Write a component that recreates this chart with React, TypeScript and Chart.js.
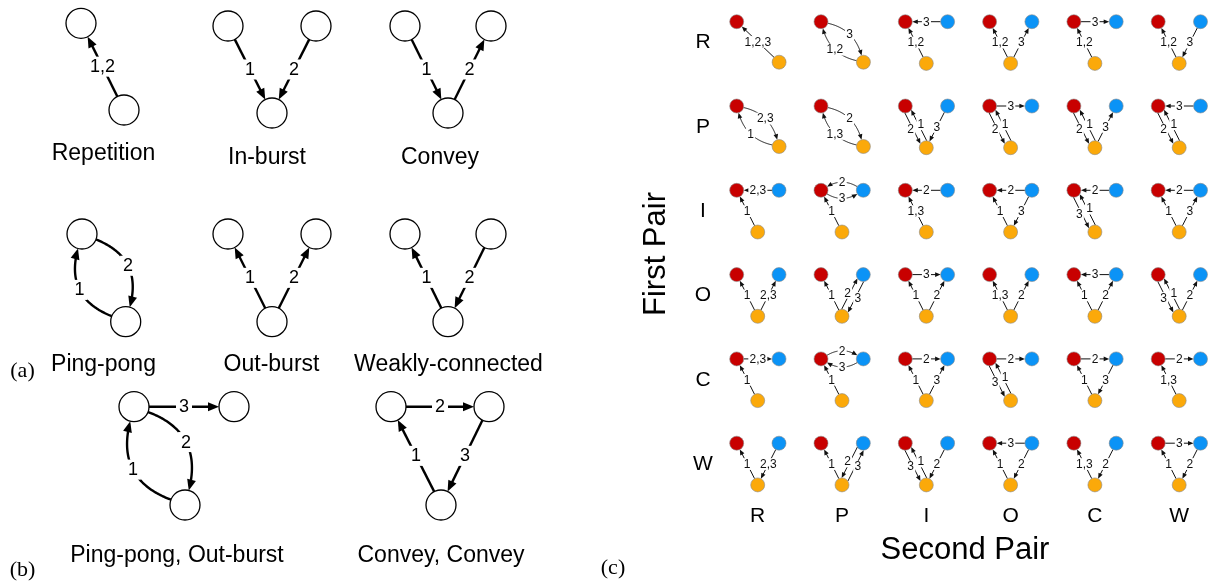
import { useEffect, useRef } from "react";
import { Chart, registerables } from "chart.js";

Chart.register(...registerables);

type Edge = [number, number, string, string?];
type Pt = { x: number; y: number };

// ---------- Panels (a) and (b): named motifs ----------
const motifCaptions = [
  "Repetition",
  "In-burst",
  "Convey",
  "Ping-pong",
  "Out-burst",
  "Weakly-connected",
  "Ping-pong, Out-burst",
  "Convey, Convey",
];
const captionX = [103.5, 267, 440, 103.5, 271.5, 448.5, 177, 441];
const captionY = [160, 164.3, 164.3, 371, 371, 371, 561.7, 561.7];

// node centres of each motif (index 0 = left / top, 1 = right, 2 = bottom)
const motifNodeX = [
  [81, 124],
  [228, 316, 272],
  [405, 491, 448],
  [82, 125.7],
  [228, 316, 272],
  [405, 491, 448],
  [134, 234, 185],
  [391, 489, 441],
];
const motifNodeY = [
  [23.3, 110],
  [26, 26, 113],
  [26, 26, 113],
  [234, 321.7],
  [234, 234, 321.7],
  [234, 234, 321.7],
  [406.7, 406.7, 505],
  [406.7, 406.7, 505],
];
// edges: [from, to, order label, shape] shape: "" straight, aL/aR arc side
const motifEdges: Edge[][] = [
  [[1, 0, "1,2"]],
  [[0, 2, "1"], [1, 2, "2"]],
  [[0, 2, "1"], [2, 1, "2"]],
  [[1, 0, "1", "aL"], [0, 1, "2", "aR"]],
  [[2, 0, "1"], [2, 1, "2"]],
  [[2, 0, "1"], [1, 2, "2"]],
  [[2, 0, "1", "aL"], [0, 2, "2", "aR"], [0, 1, "3"]],
  [[2, 0, "1"], [0, 1, "2"], [1, 2, "3"]],
];
const panelTags = ["(a)", "(b)", "(c)"];

// ---------- Panel (c): first pair x second pair ----------
// nodes: 0 = red, 1 = blue, 2 = orange
const pairCodes = ["R", "P", "I", "O", "C", "W"];
const rowR: Edge[][] = [
  [[2, 0, "1,2,3"]],
  [[2, 0, "1,2", "aL"], [0, 2, "3", "aR"]],
  [[2, 0, "1,2"], [1, 0, "3"]],
  [[2, 0, "1,2"], [2, 1, "3"]],
  [[2, 0, "1,2"], [0, 1, "3"]],
  [[2, 0, "1,2"], [1, 2, "3"]],
];
const rowP: Edge[][] = [
  [[2, 0, "1", "aL"], [0, 2, "2,3", "aR"]],
  [[2, 0, "1,3", "aL"], [0, 2, "2", "aR"]],
  [[0, 2, "2", "pL"], [2, 0, "1", "pR"], [1, 2, "3"]],
  [[0, 2, "2", "pL"], [2, 0, "1", "pR"], [0, 1, "3"]],
  [[0, 2, "2", "pL"], [2, 0, "1", "pR"], [2, 1, "3"]],
  [[0, 2, "2", "pL"], [2, 0, "1", "pR"], [1, 0, "3"]],
];
const rowI: Edge[][] = [
  [[2, 0, "1"], [1, 0, "2,3"]],
  [[2, 0, "1"], [1, 0, "2", "aU"], [0, 1, "3", "aD"]],
  [[2, 0, "1,3"], [1, 0, "2"]],
  [[2, 0, "1"], [1, 0, "2"], [1, 2, "3"]],
  [[1, 0, "2"], [0, 2, "3", "pL"], [2, 0, "1", "pR"]],
  [[2, 0, "1"], [1, 0, "2"], [2, 1, "3"]],
];
const rowO: Edge[][] = [
  [[2, 0, "1"], [2, 1, "2,3"]],
  [[2, 0, "1"], [2, 1, "2", "pL"], [1, 2, "3", "pR"]],
  [[2, 0, "1"], [2, 1, "2"], [0, 1, "3"]],
  [[2, 0, "1,3"], [2, 1, "2"]],
  [[2, 0, "1"], [2, 1, "2"], [1, 0, "3"]],
  [[0, 2, "3", "pL"], [2, 0, "1", "pR"], [2, 1, "2"]],
];
const rowC: Edge[][] = [
  [[2, 0, "1"], [0, 1, "2,3"]],
  [[2, 0, "1"], [0, 1, "2", "aU"], [1, 0, "3", "aD"]],
  [[2, 0, "1"], [0, 1, "2"], [2, 1, "3"]],
  [[0, 1, "2"], [0, 2, "3", "pL"], [2, 0, "1", "pR"]],
  [[2, 0, "1"], [0, 1, "2"], [1, 2, "3"]],
  [[2, 0, "1,3"], [0, 1, "2"]],
];
const rowW: Edge[][] = [
  [[2, 0, "1"], [1, 2, "2,3"]],
  [[2, 0, "1"], [1, 2, "2", "pL"], [2, 1, "3", "pR"]],
  [[0, 2, "3", "pL"], [2, 0, "1", "pR"], [1, 2, "2"]],
  [[2, 0, "1"], [1, 2, "2"], [1, 0, "3"]],
  [[2, 0, "1,3"], [1, 2, "2"]],
  [[2, 0, "1"], [1, 2, "2"], [0, 1, "3"]],
];
const gridRows = [rowR, rowP, rowI, rowO, rowC, rowW];

// ---------- layout / style ----------
const GRID_X0 = 736.7;
const GRID_Y0 = 21.7;
const GRID_SX = 84.3;
const GRID_SY = 84.3;
const BLUE_DX = 42.3;
const ORANGE_DX = 21;
const ORANGE_DY = 41.7;
const PAIR_DX = 42.4;
const PAIR_DY = 40.5;

const SANS = '"Liberation Sans", Arial, Helvetica, sans-serif';
const SERIF = '"Liberation Serif", "Times New Roman", serif';

const BIG = { r: 15, lw: 2.4, al: 11, aw: 9, fontSize: 18, arcRatio: 0.45, par: 0, lshift: 0, pad: 3, color: "#000" };
const SMALL = { r: 7, lw: 1, al: 5.5, aw: 4.6, fontSize: 12, arcRatio: 0.3, par: 3.5, lshift: 2.2, pad: 1.2, color: "#111" };

function cellNodes(i: number, j: number, cell: Edge[]): (Pt | null)[] {
  const rx = GRID_X0 + j * GRID_SX;
  const ry = GRID_Y0 + i * GRID_SY;
  const usesBlue = cell.some((e) => e[0] === 1 || e[1] === 1);
  if (!usesBlue) return [{ x: rx, y: ry }, null, { x: rx + PAIR_DX, y: ry + PAIR_DY }];
  return [{ x: rx, y: ry }, { x: rx + BLUE_DX, y: ry }, { x: rx + ORANGE_DX, y: ry + ORANGE_DY }];
}

function unit(x: number, y: number): Pt {
  const l = Math.hypot(x, y) || 1;
  return { x: x / l, y: y / l };
}

function quad(p0: Pt, c: Pt, p2: Pt, t: number): Pt {
  const a = (1 - t) * (1 - t), b = 2 * (1 - t) * t, d = t * t;
  return { x: a * p0.x + b * c.x + d * p2.x, y: a * p0.y + b * c.y + d * p2.y };
}

function drawEdge(ctx: CanvasRenderingContext2D, s: Pt, t: Pt, label: string, mode: string, st: typeof BIG) {
  const dx = t.x - s.x, dy = t.y - s.y;
  const L = Math.hypot(dx, dy);
  const ux = dx / L, uy = dy / L;
  let nx = -uy, ny = ux;
  const side = mode.charAt(1);
  if ((side === "L" && nx > 0) || (side === "R" && nx < 0) || (side === "U" && ny > 0) || (side === "D" && ny < 0)) {
    nx = -nx;
    ny = -ny;
  }
  ctx.strokeStyle = st.color;
  ctx.fillStyle = st.color;
  ctx.lineWidth = st.lw;
  ctx.lineCap = "butt";
  let tip: Pt, dir: Pt, lab: Pt;
  if (mode.charAt(0) === "a") {
    const off = L * st.arcRatio;
    const c = { x: (s.x + t.x) / 2 + nx * off, y: (s.y + t.y) / 2 + ny * off };
    const a0 = unit(c.x - s.x, c.y - s.y);
    const a1 = unit(c.x - t.x, c.y - t.y);
    const p0 = { x: s.x + a0.x * st.r, y: s.y + a0.y * st.r };
    const p2 = { x: t.x + a1.x * st.r, y: t.y + a1.y * st.r };
    ctx.beginPath();
    ctx.moveTo(p0.x, p0.y);
    for (let k = 1; k <= 80; k++) {
      const q = quad(p0, c, p2, k / 80);
      if (Math.hypot(q.x - p2.x, q.y - p2.y) < st.al * 0.85) break;
      ctx.lineTo(q.x, q.y);
    }
    ctx.stroke();
    tip = p2;
    dir = unit(p2.x - c.x, p2.y - c.y);
    lab = quad(p0, c, p2, 0.5);
  } else {
    const off = mode.charAt(0) === "p" ? st.par : 0;
    const inset = Math.sqrt(Math.max(st.r * st.r - off * off, 0));
    const sx = s.x + nx * off + ux * inset, sy = s.y + ny * off + uy * inset;
    tip = { x: t.x + nx * off - ux * inset, y: t.y + ny * off - uy * inset };
    dir = { x: ux, y: uy };
    ctx.beginPath();
    ctx.moveTo(sx, sy);
    ctx.lineTo(tip.x - ux * st.al * 0.85, tip.y - uy * st.al * 0.85);
    ctx.stroke();
    const ls = off ? off + st.lshift : 0;
    lab = { x: (s.x + t.x) / 2 + nx * ls, y: (s.y + t.y) / 2 + ny * ls };
  }
  // arrow head
  const bx = tip.x - dir.x * st.al, by = tip.y - dir.y * st.al;
  ctx.beginPath();
  ctx.moveTo(tip.x, tip.y);
  ctx.lineTo(bx - dir.y * st.aw / 2, by + dir.x * st.aw / 2);
  ctx.lineTo(bx + dir.y * st.aw / 2, by - dir.x * st.aw / 2);
  ctx.closePath();
  ctx.fill();
  // label with white gap
  ctx.font = `${st.fontSize}px ${SANS}`;
  const w = ctx.measureText(label).width;
  const h = st.fontSize * 0.78;
  ctx.fillStyle = "#fff";
  ctx.fillRect(lab.x - w / 2 - st.pad, lab.y - h / 2 - st.pad, w + 2 * st.pad, h + 2 * st.pad);
  ctx.fillStyle = st.color;
  ctx.textAlign = "center";
  ctx.textBaseline = "middle";
  ctx.fillText(label, lab.x, lab.y + 0.5);
}

const edgePlugin = {
  id: "motifEdges",
  beforeDatasetsDraw(chart: any) {
    const { ctx, scales } = chart;
    const px = (p: Pt): Pt => ({ x: scales.x.getPixelForValue(p.x), y: scales.y.getPixelForValue(p.y) });
    ctx.save();
    motifEdges.forEach((edges, m) => {
      edges.forEach(([f, to, lab, mode]) => {
        drawEdge(
          ctx,
          px({ x: motifNodeX[m][f], y: motifNodeY[m][f] }),
          px({ x: motifNodeX[m][to], y: motifNodeY[m][to] }),
          lab,
          mode || "",
          BIG
        );
      });
    });
    gridRows.forEach((row, i) =>
      row.forEach((cell, j) => {
        const nodes = cellNodes(i, j, cell);
        cell.forEach(([f, to, lab, mode]) => {
          drawEdge(ctx, px(nodes[f] as Pt), px(nodes[to] as Pt), lab, mode || "", SMALL);
        });
      })
    );
    ctx.restore();
  },
};

const textPlugin = {
  id: "texts",
  afterDraw(chart: any) {
    const { ctx, scales } = chart;
    const X = (v: number) => scales.x.getPixelForValue(v);
    const Y = (v: number) => scales.y.getPixelForValue(v);
    ctx.save();
    ctx.fillStyle = "#000";
    ctx.textAlign = "center";
    ctx.textBaseline = "alphabetic";
    ctx.font = `23px ${SANS}`;
    motifCaptions.forEach((c, k) => ctx.fillText(c, X(captionX[k]), Y(captionY[k])));
    ctx.font = `22px ${SERIF}`;
    ctx.fillText(panelTags[0], X(22.5), Y(377));
    ctx.fillText(panelTags[1], X(22.5), Y(576));
    ctx.fillText(panelTags[2], X(613), Y(574));
    ctx.textBaseline = "middle";
    ctx.font = `21px ${SANS}`;
    pairCodes.forEach((code, i) => {
      ctx.fillText(code, X(703), Y(GRID_Y0 + i * GRID_SY + 21));
      ctx.fillText(code, X(GRID_X0 + i * GRID_SX + 21), Y(516.7));
    });
    ctx.font = `31px ${SANS}`;
    ctx.fillText("Second Pair", X(965), Y(550));
    ctx.translate(X(656), Y(254));
    ctx.rotate(-Math.PI / 2);
    ctx.fillText("First Pair", 0, 0);
    ctx.restore();
  },
};

export default function App() {
  const ref = useRef<HTMLCanvasElement>(null);
  useEffect(() => {
    const white: Pt[] = [];
    motifNodeX.forEach((xs, m) => xs.forEach((vx, k) => white.push({ x: vx, y: motifNodeY[m][k] })));
    const red: Pt[] = [], blue: Pt[] = [], orange: Pt[] = [];
    gridRows.forEach((row, i) =>
      row.forEach((cell, j) => {
        const n = cellNodes(i, j, cell);
        red.push(n[0] as Pt);
        if (n[1]) blue.push(n[1]);
        orange.push(n[2] as Pt);
      })
    );
    const pt = (data: Pt[], r: number, bg: string, bc: string, bw: number) => ({
      data,
      pointRadius: r,
      pointHoverRadius: r,
      backgroundColor: bg,
      borderColor: bc,
      borderWidth: bw,
      clip: false as any,
    });
    const chart = new Chart(ref.current as HTMLCanvasElement, {
      type: "scatter",
      data: {
        datasets: [
          pt(white, 15, "#ffffff", "#000000", 1.3),
          pt(red, 7, "#c80000", "#8a8a8a", 0.6),
          pt(blue, 7, "#0b93f6", "#8a8a8a", 0.6),
          pt(orange, 7, "#fba90a", "#8a8a8a", 0.6),
        ],
      },
      options: {
        responsive: false,
        maintainAspectRatio: false,
        animation: false,
        events: [],
        layout: { autoPadding: false, padding: 0 },
        plugins: { legend: { display: false }, tooltip: { enabled: false } },
        scales: {
          x: { type: "linear", min: 0, max: 1213, display: false },
          y: { type: "linear", min: 0, max: 583, reverse: true, display: false },
        },
      },
      plugins: [edgePlugin, textPlugin],
    });
    return () => chart.destroy();
  }, []);
  return (
    <div style={{ position: "fixed", left: 0, top: 0, width: 1213, height: 583, background: "#fff" }}>
      <canvas ref={ref} width={1213} height={583} style={{ display: "block", width: 1213, height: 583 }} />
    </div>
  );
}
